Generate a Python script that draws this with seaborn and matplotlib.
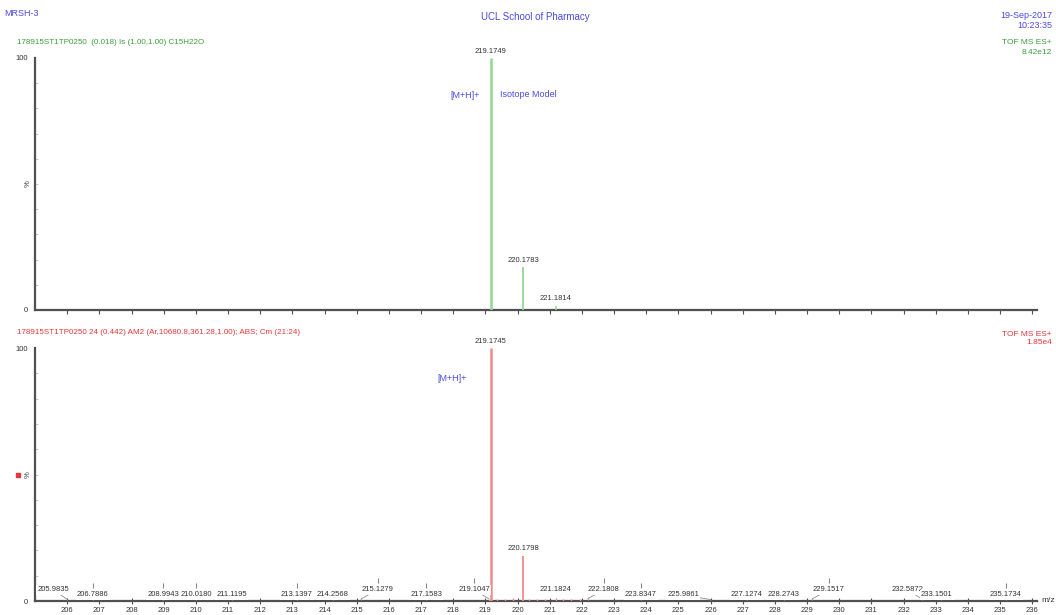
import numpy as np
import matplotlib
matplotlib.use("Agg")
import matplotlib.pyplot as plt
import seaborn as sns

# isotope model (top trace)
model_mz = [219.1749, 220.1783, 221.1814]
model_int = [100.0, 17.0, 1.6]

# measured spectrum (bottom trace), main ions
exp_mz = [219.1745, 220.1798]
exp_int = [100.0, 17.8]

# small labelled peaks of the measured trace
small_mz = [205.9835, 206.7886, 208.9943, 210.0180, 211.1195, 213.1397, 214.2568,
            215.1279, 217.1583, 219.1047, 221.1824, 222.1808, 223.8347, 225.9861,
            227.1274, 228.2743, 229.1517, 232.5872, 233.1501, 235.1734]
small_int = [0.8, 0.8, 0.8, 0.8, 0.6, 0.8, 0.6, 0.8, 0.8, 0.9, 1.0, 0.9, 0.7, 0.6,
             0.6, 0.6, 0.8, 0.7, 0.6, 0.8]
# baseline noise around the main ion
noise_mz = [219.35, 219.6, 219.85, 220.35, 220.6, 220.85, 221.4, 221.65, 221.95]
noise_int = [0.9, 0.7, 1.0, 0.8, 0.9, 0.7, 0.8, 0.9, 0.7]

# label layout for the small peaks (shift in m/z units, row 1 = upper)
label_shift = [-0.42, 0, 0, 0, 0, 0, 0, 0.53, 0, -0.45, 0, 0.5, 0, -0.84,
               0, 0, 0.53, -0.47, -0.12, 0]
label_row = [1, 0, 0, 0, 0, 0, 0, 1, 0, 1, 1, 1, 0, 0, 0, 0, 1, 1, 0, 0]
label_mark = [0, 1, 1, 1, 0, 1, 0, 1, 1, 1, 0, 1, 1, 0, 0, 0, 1, 0, 0, 1]

x_ticks = list(range(206, 237))

sns.set_theme(style="white")
plt.rcParams['font.family'] = ['Liberation Sans', 'DejaVu Sans']

BLUE = '#4a4ae0'
GREEN_TXT = '#3c9c3c'
GREEN_LINE = '#92d892'
RED_TXT = '#e8353a'
RED_LINE = '#f38a8a'
AXC = '#505050'

fig = plt.figure(figsize=(10.56, 6.15), dpi=100)
ax1 = fig.add_axes([35/1056, 1-310/615, 1002/1056, 252/615])
ax2 = fig.add_axes([35/1056, 1-601/615, 1002/1056, 253/615])

for ax in (ax1, ax2):
    ax.set_xlim(205.0, 236.15)
    ax.set_ylim(0, 100)
    for s in ('top', 'right'):
        ax.spines[s].set_visible(False)
    for s in ('left', 'bottom'):
        ax.spines[s].set_color(AXC)
        ax.spines[s].set_linewidth(1.6)
    ax.set_yticks([0, 100])
    ax.set_yticklabels(['0', '100'], fontsize=5.5, color='#333333')
    ax.set_yticks(np.arange(10, 100, 10), minor=True)
    ax.tick_params(axis='y', which='major', direction='out', length=4, width=0.8,
                   color=AXC, pad=1)
    ax.tick_params(axis='y', which='minor', direction='in', length=2, width=0.6,
                   color='#bbbbbb', left=True)
    ax.set_xticks(x_ticks)
    ax.grid(False)
    ax.text(-0.007, 0.5, '%', transform=ax.transAxes, rotation=90, fontsize=5.5,
            color='#333333', ha='center', va='center')

ax1.tick_params(axis='x', direction='out', length=3, width=0.8, color=AXC,
                labelbottom=False, bottom=True)
ax2.tick_params(axis='x', direction='inout', length=5, width=0.8, color=AXC,
                labelsize=5.5, labelcolor='#333333', pad=2, bottom=True)

# top: isotope model
ax1.vlines(model_mz, 0, model_int, color=GREEN_LINE, lw=[1.8, 1.3, 1.1], zorder=3)
for mz, h in zip(model_mz, model_int):
    ax1.annotate(f'{mz:.4f}', (mz, h), xytext=(0, 2.5), textcoords='offset points',
                 ha='center', va='bottom', fontsize=5.5, color='#333333',
                 annotation_clip=False)
ax1.text(218.37, 85, '[M+H]+', fontsize=6.5, color=BLUE, ha='center', va='center')
ax1.text(220.33, 85.5, 'Isotope Model', fontsize=6.5, color=BLUE, ha='center', va='center')

# bottom: measured
ax2.vlines(noise_mz, 0, noise_int, color=RED_LINE, lw=1.0, zorder=3)
ax2.vlines(exp_mz, 0, exp_int, color=RED_LINE, lw=[1.8, 1.3], zorder=3)
for mz, h in zip(exp_mz, exp_int):
    ax2.annotate(f'{mz:.4f}', (mz, h), xytext=(0, 2.5), textcoords='offset points',
                 ha='center', va='bottom', fontsize=5.5, color='#333333',
                 annotation_clip=False)
small_col = [RED_LINE if 219 < m < 222 else '#777777' for m in small_mz]
ax2.vlines(small_mz, 0, small_int, color=small_col, lw=0.9, zorder=3)
row_y = [2.4, 4.4]
for mz, h, sh, r, mk in zip(small_mz, small_int, label_shift, label_row, label_mark):
    ty = row_y[r]
    arrow = dict(arrowstyle='-', lw=0.5, color='#777777', shrinkA=0, shrinkB=0) if sh else None
    ax2.annotate(f'{mz:.4f}', (mz, h), xytext=(mz + sh, ty), textcoords='data',
                 ha='center', va='center', fontsize=5.5, color='#333333',
                 arrowprops=arrow, zorder=5,
                 bbox=dict(boxstyle='square,pad=0.15', fc='white', ec='none'))
    if mk:
        ax2.vlines(mz + sh, ty + 2.8, ty + 4.8, color='#888888', lw=0.8, zorder=4)
ax2.text(217.97, 88, '[M+H]+', fontsize=6.5, color=BLUE, ha='center', va='center')
ax2.text(1.004, 0.0, 'm/z', transform=ax2.transAxes, fontsize=6, color='#333333',
         ha='left', va='center')
ax2.plot([-0.017], [0.5], 's', transform=ax2.transAxes, clip_on=False,
         color=RED_TXT, ms=3.5)

# header texts
fig.text(4/1056, 1-14/615, 'MRSH-3', fontsize=6.5, color=BLUE, ha='left', va='center')
fig.text(535/1056, 1-17/615, 'UCL School of Pharmacy', fontsize=7, color=BLUE,
         ha='center', va='center')
fig.text(1052/1056, 1-16/615, '19-Sep-2017', fontsize=6.5, color=BLUE, ha='right', va='center')
fig.text(1052/1056, 1-26/615, '10:23:35', fontsize=6.5, color=BLUE, ha='right', va='center')
fig.text(17/1056, 1-43/615, '178915ST1TP0250  (0.018) Is (1.00,1.00) C15H22O',
         fontsize=5.8, color=GREEN_TXT, ha='left', va='center')
fig.text(1052/1056, 1-43/615, 'TOF MS ES+', fontsize=6, color=GREEN_TXT, ha='right', va='center')
fig.text(1052/1056, 1-52/615, '8.42e12', fontsize=6, color=GREEN_TXT, ha='right', va='center')
fig.text(17/1056, 1-333/615,
         '178915ST1TP0250 24 (0.442) AM2 (Ar,10680.8,361.28,1.00); ABS; Cm (21:24)',
         fontsize=5.8, color=RED_TXT, ha='left', va='center')
fig.text(1052/1056, 1-334/615, 'TOF MS ES+', fontsize=6, color=RED_TXT, ha='right', va='center')
fig.text(1052/1056, 1-343/615, '1.85e4', fontsize=6, color=RED_TXT, ha='right', va='center')

fig.savefig('out.png', dpi=100, facecolor='white')
